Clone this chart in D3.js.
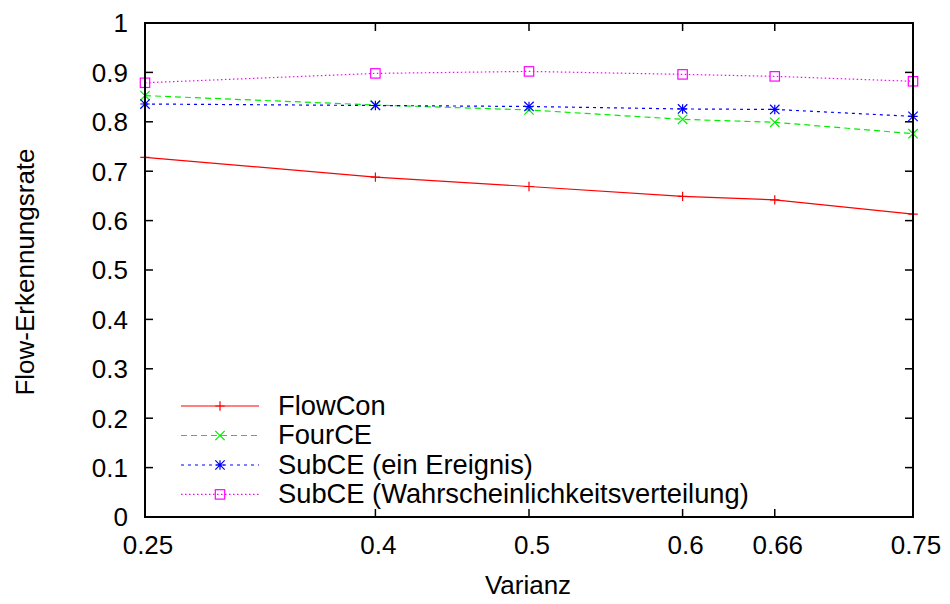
<!DOCTYPE html>
<html lang="de">
<head>
<meta charset="UTF-8">
<title>Flow-Erkennungsrate</title>
<script src="https://d3js.org/d3.v7.min.js"></script>
<style>
  body { margin: 0; background: #fff; }
  text { font-family: "Liberation Sans", Arial, sans-serif; fill: #000; }
</style>
</head>
<body>
<svg width="950" height="604"></svg>
<script>
// values
const varianz = [0.25, 0.4, 0.5, 0.6, 0.66, 0.75];
const xTickLabels = ["0.25", "0.4", "0.5", "0.6", "0.66", "0.75"];
const yTicks = [0, 0.1, 0.2, 0.3, 0.4, 0.5, 0.6, 0.7, 0.8, 0.9, 1];

const seriesNames = ["FlowCon", "FourCE", "SubCE (ein Ereignis)", "SubCE (Wahrscheinlichkeitsverteilung)"];
const flowCon = [0.728, 0.688, 0.669, 0.649, 0.642, 0.613];
const fourCE = [0.853, 0.834, 0.824, 0.805, 0.799, 0.776];
const subCEEin = [0.836, 0.833, 0.831, 0.826, 0.825, 0.811];
const subCEWahr = [0.879, 0.898, 0.902, 0.896, 0.892, 0.882];

const colors = ["#ff0000", "#00ee00", "#0000ff", "#ff00ff"];
const dashes = [null, "6,4", "3,4", "1.5,2.5"];
const markers = ["plus", "cross", "star", "box"];

const svg = d3.select("svg");
const plotLeft = 145, plotRight = 913, plotTop = 23, plotBottom = 517;

const x = d3.scaleLinear().domain([0.25, 0.75]).range([plotLeft, plotRight]);
const y = d3.scaleLinear().domain([0, 1]).range([plotBottom, plotTop]);

const data = [flowCon, fourCE, subCEEin, subCEWahr];

// ticks on all four sides (gnuplot mirror style)
const tickLen = 8;
const axes = svg.append("g");
yTicks.forEach(v => {
  axes.append("line").attr("x1", plotLeft).attr("x2", plotLeft + tickLen)
    .attr("y1", y(v)).attr("y2", y(v)).attr("stroke", "#000").attr("stroke-width", 1.5);
  axes.append("line").attr("x1", plotRight).attr("x2", plotRight - tickLen)
    .attr("y1", y(v)).attr("y2", y(v)).attr("stroke", "#000").attr("stroke-width", 1.5);
  axes.append("text").attr("x", 128).attr("y", y(v)).attr("dy", "0.36em")
    .attr("text-anchor", "end").attr("font-size", 26).text(d3.format("")(v));
});
varianz.forEach((v, i) => {
  axes.append("line").attr("x1", x(v)).attr("x2", x(v))
    .attr("y1", plotBottom).attr("y2", plotBottom - tickLen).attr("stroke", "#000").attr("stroke-width", 1.5);
  axes.append("line").attr("x1", x(v)).attr("x2", x(v))
    .attr("y1", plotTop).attr("y2", plotTop + tickLen).attr("stroke", "#000").attr("stroke-width", 1.5);
  axes.append("text").attr("x", x(v) + 3).attr("y", 554)
    .attr("text-anchor", "middle").attr("font-size", 26)
    .text(xTickLabels[i]);
});

// series lines
const line = d3.line().x((d, i) => x(varianz[i])).y(d => y(d));
data.forEach((vals, k) => {
  svg.append("path").datum(vals).attr("d", line)
    .attr("fill", "none").attr("stroke", colors[k]).attr("stroke-width", 1.2)
    .attr("stroke-dasharray", dashes[k]);
});

function drawMarker(g, type, cx, cy, color) {
  const s = 4.7;
  if (type === "plus") {
    g.append("path").attr("d", `M${cx - s},${cy}H${cx + s}M${cx},${cy - s}V${cy + s}`)
      .attr("stroke", color).attr("stroke-width", 1.2);
  } else if (type === "cross") {
    g.append("path").attr("d", `M${cx - s},${cy - s}L${cx + s},${cy + s}M${cx - s},${cy + s}L${cx + s},${cy - s}`)
      .attr("stroke", color).attr("stroke-width", 1.2);
  } else if (type === "star") {
    g.append("path").attr("d", `M${cx - s},${cy}H${cx + s}M${cx},${cy - s}V${cy + s}M${cx - s},${cy - s}L${cx + s},${cy + s}M${cx - s},${cy + s}L${cx + s},${cy - s}`)
      .attr("stroke", color).attr("stroke-width", 1.2);
  } else {
    g.append("rect").attr("x", cx - s).attr("y", cy - s).attr("width", 2 * s).attr("height", 2 * s)
      .attr("fill", "none").attr("stroke", color).attr("stroke-width", 1.2);
  }
}

data.forEach((vals, k) => {
  const g = svg.append("g");
  vals.forEach((v, i) => drawMarker(g, markers[k], x(varianz[i]), y(v), colors[k]));
});

// frame
svg.append("rect").attr("x", plotLeft).attr("y", plotTop)
  .attr("width", plotRight - plotLeft).attr("height", plotBottom - plotTop)
  .attr("fill", "none").attr("stroke", "#000").attr("stroke-width", 2);

// legend
const legendY = [406, 435.5, 465, 494.4];
seriesNames.forEach((name, k) => {
  const g = svg.append("g");
  g.append("line").attr("x1", 181).attr("x2", 259).attr("y1", legendY[k]).attr("y2", legendY[k])
    .attr("stroke", colors[k]).attr("stroke-width", 1.2).attr("stroke-dasharray", dashes[k]);
  drawMarker(g, markers[k], 220, legendY[k], colors[k]);
  g.append("text").attr("x", 278).attr("y", legendY[k] - 1).attr("dy", "0.36em")
    .attr("font-size", 27.3).text(name);
});

// axis titles
svg.append("text").attr("x", 528).attr("y", 594).attr("text-anchor", "middle")
  .attr("font-size", 26).text("Varianz");
svg.append("text").attr("transform", "translate(34,272) rotate(-90)")
  .attr("text-anchor", "middle").attr("font-size", 26).text("Flow-Erkennungsrate");
</script>
</body>
</html>
